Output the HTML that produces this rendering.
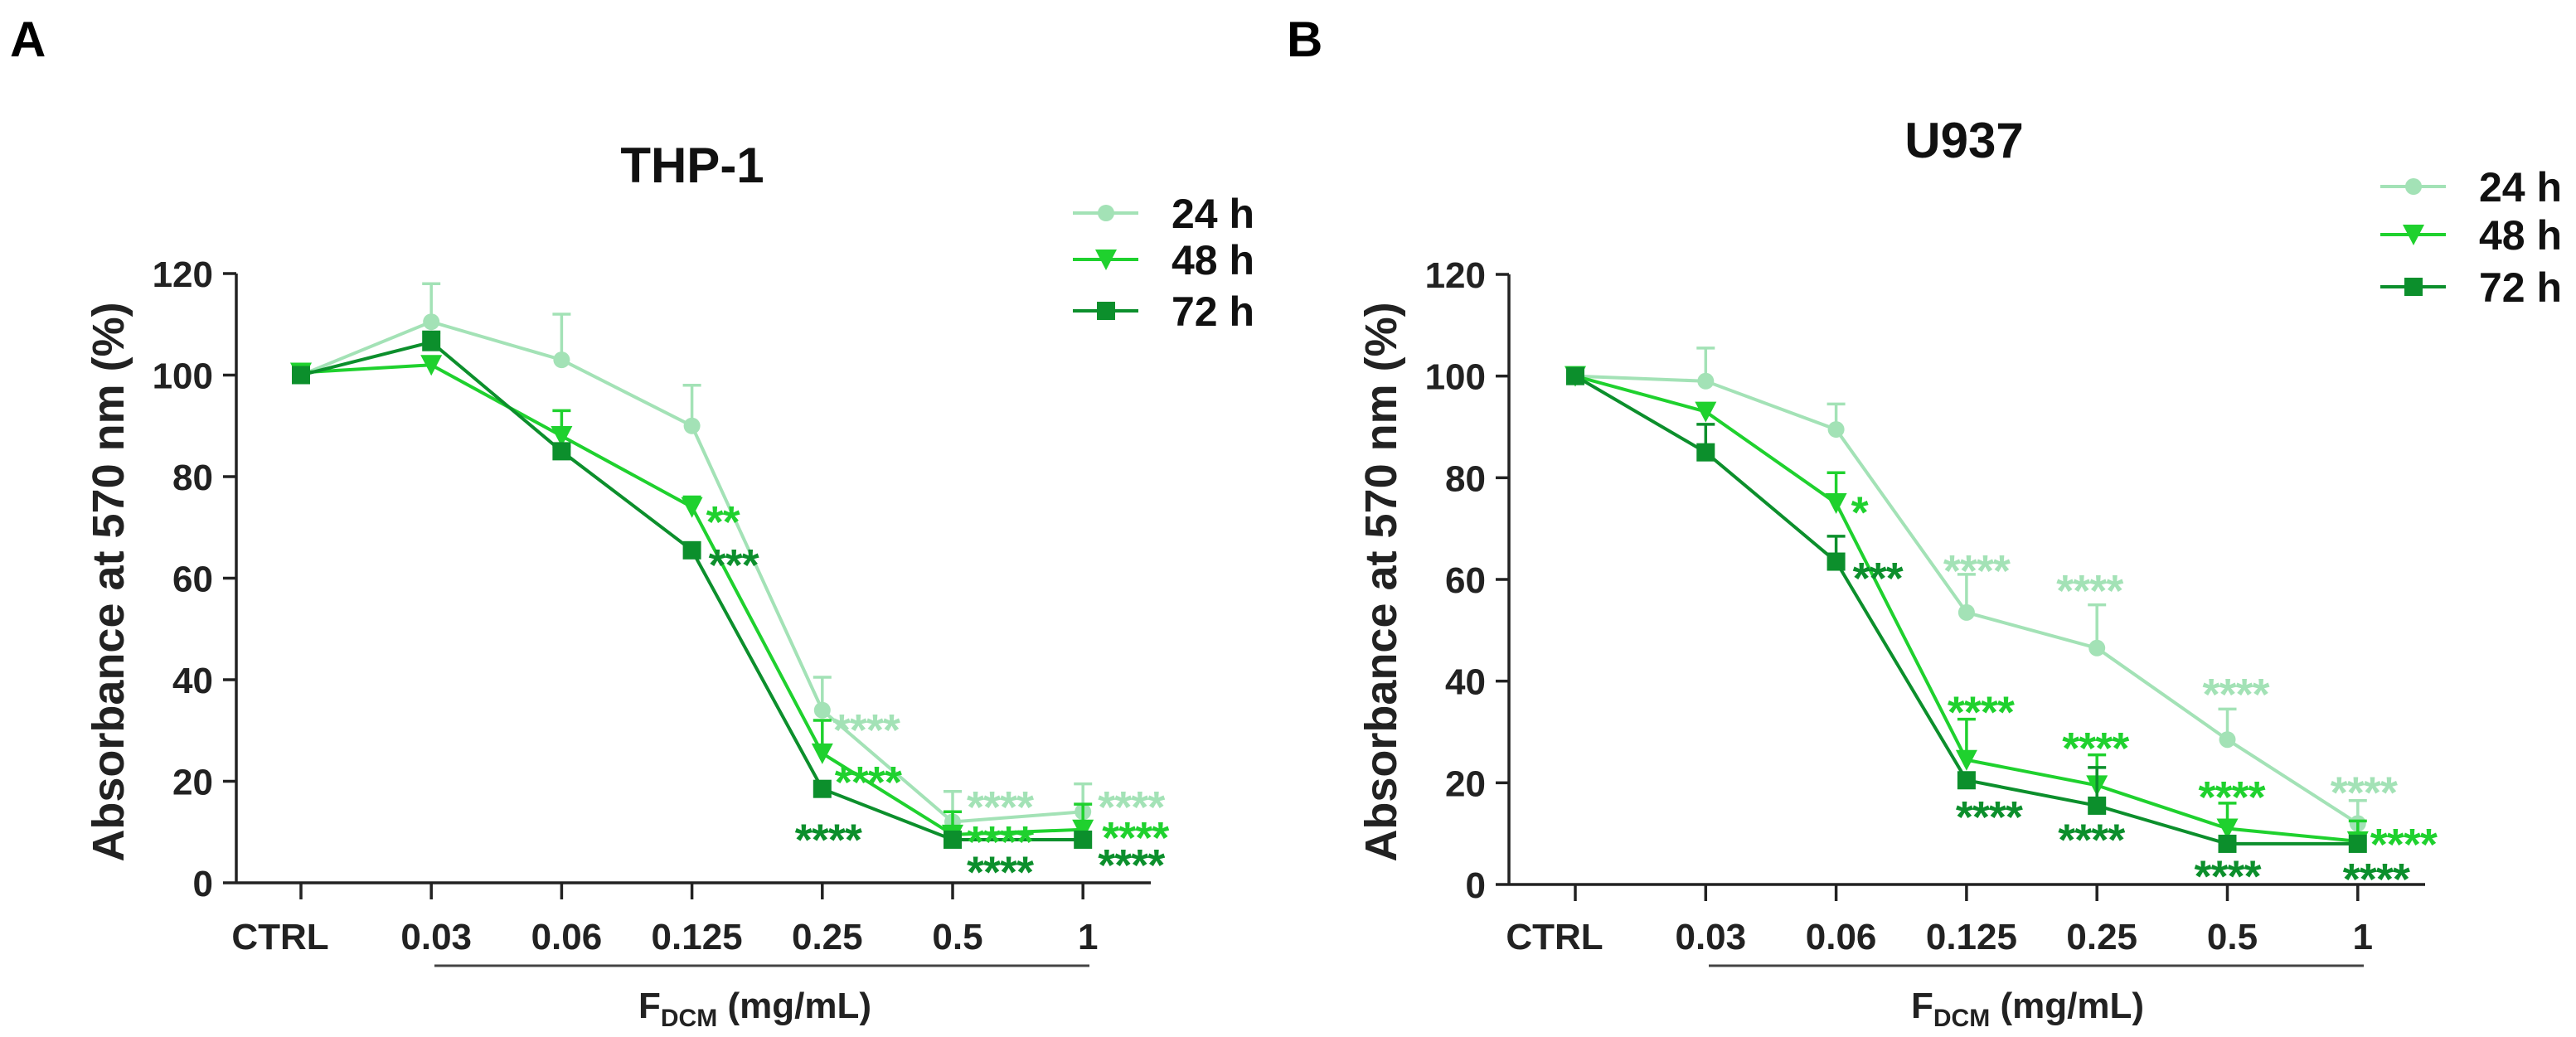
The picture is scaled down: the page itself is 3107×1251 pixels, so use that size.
<!DOCTYPE html>
<html><head><meta charset="utf-8">
<style>
html,body{margin:0;padding:0;background:#fff;}
svg{display:block;font-family:"Liberation Sans",Arial,sans-serif;font-weight:bold;}
</style></head>
<body>
<svg id="fig" width="3107" height="1251" viewBox="0 0 3107 1251" xmlns="http://www.w3.org/2000/svg"></svg>
<script>
const categories = ["CTRL","0.03","0.06","0.125","0.25","0.5","1"];
const yTicks = [0,20,40,60,80,100,120];
const seriesNames = ["24 h","48 h","72 h"];
const colors = ["#a3e2b6","#1fd12e","#0c8f2c"];
// Panel A (THP-1)
const thp24 = [100,110.5,103,90,34,12,14];
const thp24Err = [0,7.5,9,8,6.5,6,5.5];
const thp48 = [100.5,102,88,74,25.5,9.5,10.5];
const thp48Err = [1,0,5,2,6.5,4.5,5];
const thp72 = [100,106.5,85,65.5,18.5,8.5,8.5];
const thp72Err = [0,2,1,0,0,0,0];
const thpStarText = ["**","***","****","****","****","****","****","****","****","****","****"];
const thpStarSeries = [1,2,0,1,2,0,1,2,0,1,2];
const thpStarCat = [3,3,4,4,4,5,5,5,6,6,6];
const thpStarVal = [73,64.5,32,21.7,10.4,16.8,10,4,16.8,10.8,5.4];
const thpStarDx = [17,20,13,15,-33,17,17,17,18,23,18];
// Panel B (U937)
const u24 = [100,99,89.5,53.5,46.5,28.5,12];
const u24Err = [0,6.5,5,7.5,8.5,6,4.5];
const u48 = [100,93,75,24.5,19.5,11,8.5];
const u48Err = [0,0,6,8,6,5,4];
const u72 = [100,85,63.5,20.5,15.5,8,8];
const u72Err = [0,5.5,5,0,7.5,0,0];
const uStarText = ["*","***","****","****","****","****","****","****","****","****","****","****","****","****"];
const uStarSeries = [1,2,0,1,2,0,1,2,0,1,2,0,1,2];
const uStarCat = [2,2,3,3,3,4,4,4,5,5,5,6,6,6];
const uStarVal = [75.1,62.1,63.6,35.8,15.2,59.7,28.7,10.7,39.3,19.1,3.5,20,9.8,2.9];
const uStarDx = [18,20,-28,-23,-13,-49,-42,-47,-30,-35,-40,-33,15,-18];

const NS="http://www.w3.org/2000/svg";
const svg=document.getElementById('fig');
function mk(tag,attrs,parent){const e=document.createElementNS(NS,tag);for(const k in attrs)e.setAttribute(k,attrs[k]);(parent||svg).appendChild(e);return e;}

function marker(s,x,y,parent){
  const c=colors[s];
  if(s==0)return mk('circle',{cx:x,cy:y,r:10,fill:c},parent);
  if(s==1)return mk('polygon',{points:`${x-13},${y-12} ${x+13},${y-12} ${x},${y+13}`,fill:c},parent);
  return mk('rect',{x:x-11,y:y-11,width:22,height:22,fill:c},parent);
}

function drawPanel(p){
  const g=mk('g',{});
  
  
  const yS=v=>p.y0-(v/120)*(p.y0-p.y120);
  const xS=i=>p.x0+i*p.dx;
  let t=mk('text',{x:p.letterX,y:68,'font-size':60,fill:'#000'},g);t.textContent=p.letter;
  
  
  t=mk('text',{x:p.titleX,y:p.titleY,'font-size':60,'text-anchor':'middle',fill:'#111'},g);t.textContent=p.title;
  
  
  let a=mk('line',{x1:p.ax,y1:p.y120,x2:p.ax,y2:p.y0+1.5,stroke:'#222','stroke-width':3.5},g);
  
  
  a=mk('line',{x1:p.ax,y1:p.y0,x2:p.axEnd,y2:p.y0,stroke:'#222','stroke-width':3.5},g);
  
  
  yTicks.forEach(v=>{
    const y=yS(v);
    mk('line',{x1:p.ax-16,y1:y,x2:p.ax,y2:y,stroke:'#222','stroke-width':3.5},g);
    const tl=mk('text',{x:p.ax-28,y:y+16,'font-size':44,'text-anchor':'end',fill:'#222'},g);tl.textContent=v;
    
    
  });
  categories.forEach((c,i)=>{
    const x=xS(i);
    mk('line',{x1:x,y1:p.y0,x2:x,y2:p.y0+20,stroke:'#222','stroke-width':3.5},g);
    const tl=mk('text',{x:x+(i==0?-25:6),y:1145,'font-size':44,'text-anchor':'middle',fill:'#222'},g);tl.textContent=c;
    
    
  });
  a=mk('line',{x1:p.ulX1,y1:1165,x2:p.ulX2,y2:1165,stroke:'#444','stroke-width':3},g);
  
  
  t=mk('text',{x:p.fX,y:1228,'font-size':44,fill:'#222'},g);
  
  
  t.innerHTML='F<tspan font-size="30" dy="10">DCM</tspan><tspan dy="-10"> (mg/mL)</tspan>';
  t=mk('text',{x:0,y:0,'font-size':54,'text-anchor':'middle',fill:'#222',transform:`translate(${p.ytX},${p.ytY}) rotate(-90)`},g);
  t.textContent='Absorbance at 570 nm (%)';
  
  
  p.series.forEach((vals,s)=>{
    const col=colors[s];
    const sg=mk('g',{},g);
    
    
    vals.forEach((v,i)=>{
      const e=p.errs[s][i];
      if(e>0){const x=xS(i),y1=yS(v),y2=yS(v+e);
        mk('line',{x1:x,y1:y1,x2:x,y2:y2,stroke:col,'stroke-width':3.5},sg);
        mk('line',{x1:x-11,y1:y2,x2:x+11,y2:y2,stroke:col,'stroke-width':3.5},sg);}
    });
    mk('polyline',{points:vals.map((v,i)=>xS(i)+','+yS(v)).join(' '),fill:'none',stroke:col,'stroke-width':4},sg);
    vals.forEach((v,i)=>{
      const m=marker(s,xS(i),yS(v),sg);
      
      
    });
  });
  p.stars.text.forEach((tx,k)=>{
    const x=xS(p.stars.cat[k])+p.stars.dx[k];
    const y=yS(p.stars.val[k])+30;
    const st=mk('text',{x:x,y:y,'font-size':54,fill:colors[p.stars.series[k]],'letter-spacing':'-1'},g);
    st.textContent=tx;
    
    
  });
  p.legY.forEach((ly,s)=>{
    const lg=mk('g',{},g);
    
    
    mk('line',{x1:p.legX,y1:ly,x2:p.legX+79,y2:ly,stroke:colors[s],'stroke-width':4},lg);
    marker(s,p.legX+40,ly,lg);
    const lt=mk('text',{x:p.legX+119,y:ly+18,'font-size':50,fill:'#111'},lg);lt.textContent=seriesNames[s];
  });
}
drawPanel({name:'panel-a-thp1',letter:'A',letterX:12,title:'THP-1',titleX:835,titleY:220,
  ax:285,axEnd:1388,x0:363,dx:157.2,y0:1065,y120:330,ulX1:524,ulX2:1314,fX:770,ytX:149,ytY:702,
  series:[thp24,thp48,thp72],errs:[thp24Err,thp48Err,thp72Err],
  stars:{text:thpStarText,series:thpStarSeries,cat:thpStarCat,val:thpStarVal,dx:thpStarDx},
  legX:1294,legY:[257,313,375]});
drawPanel({name:'panel-b-u937',letter:'B',letterX:1552,title:'U937',titleX:2369,titleY:190,
  ax:1820,axEnd:2925,x0:1900,dx:157.3,y0:1067,y120:331,ulX1:2061,ulX2:2851,fX:2305,ytX:1684,ytY:702,
  series:[u24,u48,u72],errs:[u24Err,u48Err,u72Err],
  stars:{text:uStarText,series:uStarSeries,cat:uStarCat,val:uStarVal,dx:uStarDx},
  legX:2871,legY:[225,283,346]});
</script>
</body></html>
